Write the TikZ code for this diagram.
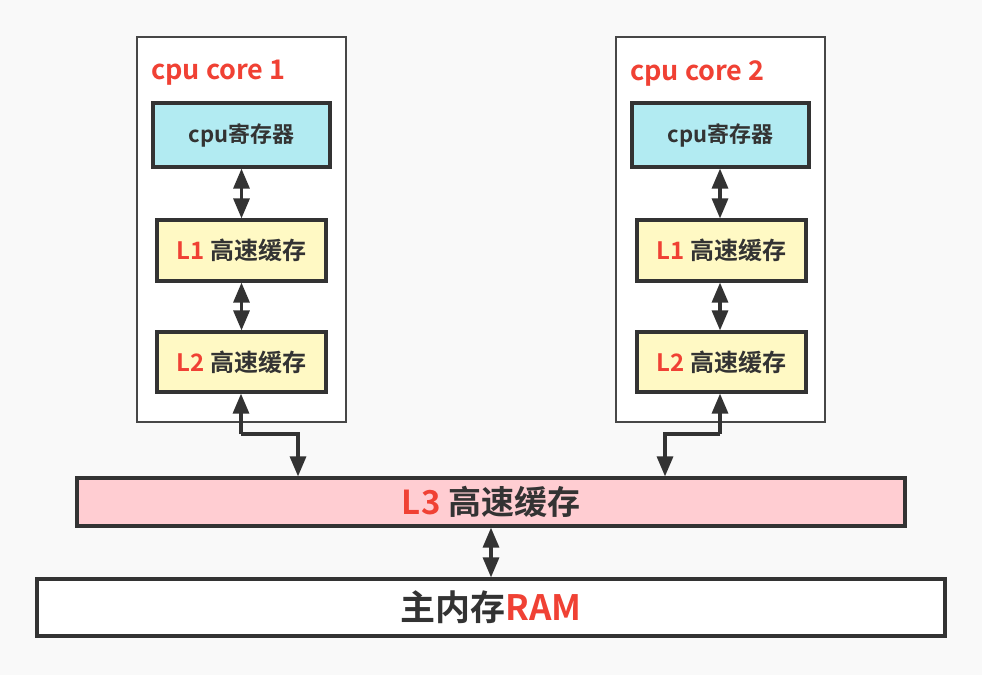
\documentclass[tikz,border=0pt]{standalone}
\usepackage{fontspec}
\setmainfont{Noto Sans CJK SC}[BoldFont={* Bold}]
\usetikzlibrary{arrows.meta}
\definecolor{bg}{HTML}{F9F9F9}
\definecolor{ln}{HTML}{333333}
\definecolor{rd}{HTML}{F04134}
\definecolor{cyanfill}{HTML}{B2EBF2}
\definecolor{yelfill}{HTML}{FFF9C4}
\definecolor{pinkfill}{HTML}{FFCDD2}
\tikzset{
  corebox/.style={draw=ln!90, line width=2.8pt, fill=white},
  regbox/.style={draw=ln, line width=3.2pt, fill=cyanfill},
  cachebox/.style={draw=ln, line width=3.2pt, fill=yelfill},
  conn/.style={draw=ln, line width=3.2pt, -{Triangle[length=20pt,width=16pt]}},
  dconn/.style={draw=ln, line width=3.2pt, {Triangle[length=20pt,width=16pt]}-{Triangle[length=20pt,width=16pt]}},
  lbl/.style={font=\bfseries\fontsize{24}{28}\selectfont, text=ln}
}
\begin{document}
\begin{tikzpicture}[x=1pt,y=-1pt]
\fill[bg] (0,0) rectangle (982,675);
\useasboundingbox (0,0) rectangle (982,675);

% cores
\foreach \n/\x in {1/137,2/616}{
  \draw[corebox] (\x,37) rectangle ++(209,385);
  \node[anchor=west, inner sep=0pt, text=rd, font=\bfseries\fontsize{27}{30}\selectfont] at (\x+14,73) {cpu core \n};
}
% core 1
\node[regbox, minimum width=177pt, minimum height=64pt, inner sep=0pt, lbl, font=\bfseries\fontsize{22}{26}\selectfont] (r1) at (241.5,135) {cpu寄存器};
\node[cachebox, minimum width=169pt, minimum height=61pt, inner sep=0pt, lbl] (a1) at (241.5,250.5) {\textcolor{rd}{L1} 高速缓存};
\node[cachebox, minimum width=169pt, minimum height=60pt, inner sep=0pt, lbl] (b1) at (241.5,362) {\textcolor{rd}{L2} 高速缓存};
% core 2
\node[regbox, minimum width=177pt, minimum height=64pt, inner sep=0pt, lbl, font=\bfseries\fontsize{22}{26}\selectfont] (r2) at (720.5,135) {cpu寄存器};
\node[cachebox, minimum width=169pt, minimum height=61pt, inner sep=0pt, lbl] (a2) at (721.5,250.5) {\textcolor{rd}{L1} 高速缓存};
\node[cachebox, minimum width=169pt, minimum height=60pt, inner sep=0pt, lbl] (b2) at (721.5,362) {\textcolor{rd}{L2} 高速缓存};

% L3
\node[draw=ln, line width=3.2pt, fill=pinkfill, minimum width=828pt, minimum height=48pt, inner sep=0pt, font=\bfseries\fontsize{33}{36}\selectfont, text=ln] (l3) at (491,502) {\textcolor{rd}{L3} 高速缓存};
% RAM
\node[draw=ln, line width=3.2pt, fill=white, minimum width=908pt, minimum height=57pt, inner sep=0pt, font=\bfseries\fontsize{35}{38}\selectfont, text=ln] (ram) at (491,607.5) {主内存\textcolor{rd}{RAM}};

% connectors
\draw[dconn] (r1.south) -- (r1.south |- a1.north);
\draw[dconn] (a1.south) -- (b1.north);
\draw[dconn] (r2.south -| 720,0) -- (a2.north -| 720,0);
\draw[dconn] (a2.south -| 720,0) -- (b2.north -| 720,0);

\coordinate (c1a) at (241,434);
\coordinate (c1b) at (298,434);
\draw[conn] (c1a) -- (b1.south -| c1a);
\draw[conn] (c1a) -- (c1b) -- (c1b |- l3.north);
\coordinate (c2a) at (720,434);
\coordinate (c2b) at (665,434);
\draw[conn] (c2a) -- (b2.south -| c2a);
\draw[conn] (c2a) -- (c2b) -- (c2b |- l3.north);

\draw[dconn] (l3.south) -- (ram.north);
\end{tikzpicture}
\end{document}
